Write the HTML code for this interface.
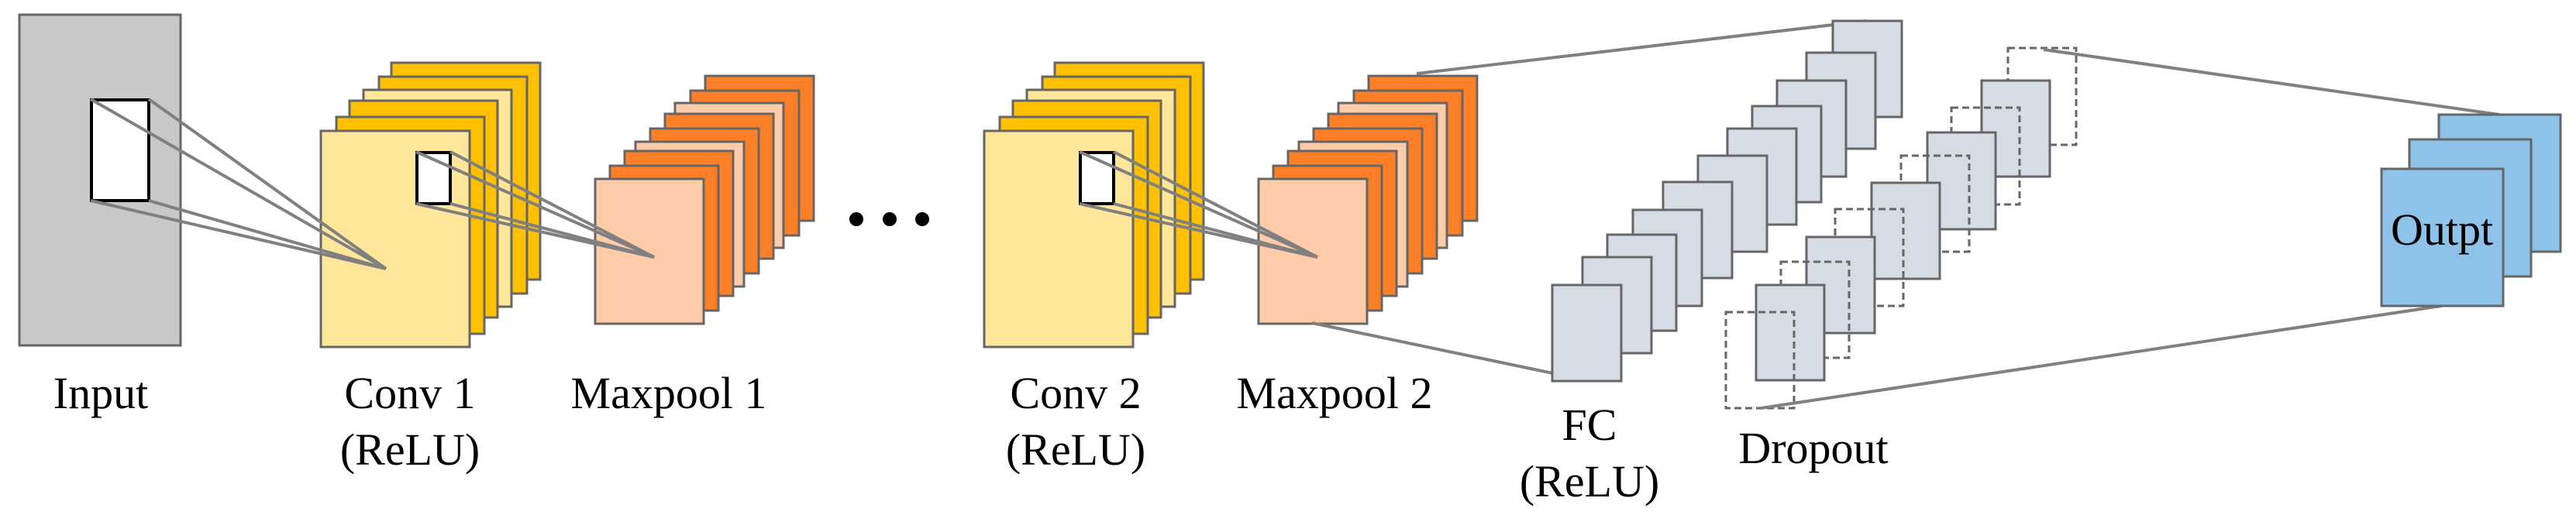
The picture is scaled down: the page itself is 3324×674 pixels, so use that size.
<!DOCTYPE html>
<html><head><meta charset="utf-8"><style>
html,body{margin:0;padding:0;background:#fff;width:3324px;height:674px;overflow:hidden}
svg{display:block}
text{font-family:"Liberation Serif",serif;font-size:58px;fill:#000}
</style></head><body>
<svg width="3324" height="674" viewBox="0 0 3324 674" xmlns="http://www.w3.org/2000/svg">
<defs>
<g id="conv">
<rect x="505" y="81" width="192" height="280" fill="#FFC000" stroke="#666" stroke-width="3"/>
<rect x="489" y="99" width="191" height="280" fill="#FFC000" stroke="#666" stroke-width="3"/>
<rect x="469" y="116" width="191" height="280" fill="#FFE699" stroke="#666" stroke-width="3"/>
<rect x="451" y="130" width="191" height="280" fill="#FFC000" stroke="#666" stroke-width="3"/>
<rect x="434" y="151" width="191" height="280" fill="#FFC000" stroke="#666" stroke-width="3"/>
<rect x="414" y="169" width="192" height="279" fill="#FFE699" stroke="#666" stroke-width="3"/>
</g>
<g id="pool">
<rect x="910" y="98" width="140" height="187" fill="#FF7F27" stroke="#666" stroke-width="3"/>
<rect x="891" y="117" width="140" height="187" fill="#FF7F27" stroke="#666" stroke-width="3"/>
<rect x="871" y="133" width="140" height="187" fill="#FFCBA8" stroke="#666" stroke-width="3"/>
<rect x="858" y="147" width="140" height="187" fill="#FF7F27" stroke="#666" stroke-width="3"/>
<rect x="839" y="166" width="140" height="187" fill="#FF7F27" stroke="#666" stroke-width="3"/>
<rect x="820" y="183" width="140" height="187" fill="#FFCBA8" stroke="#666" stroke-width="3"/>
<rect x="806" y="195" width="140" height="187" fill="#FF7F27" stroke="#666" stroke-width="3"/>
<rect x="787" y="214" width="140" height="187" fill="#FF7F27" stroke="#666" stroke-width="3"/>
<rect x="768" y="231" width="140" height="187" fill="#FFCBA8" stroke="#666" stroke-width="3"/>
</g>
</defs>

<!-- Input -->
<rect x="25" y="19" width="208" height="427" fill="#C8C8C8" stroke="#666" stroke-width="3"/>
<rect x="118" y="129" width="74" height="130" fill="#fff" stroke="#000" stroke-width="4"/>

<use href="#conv"/>
<g stroke="#808080" stroke-width="4" fill="none">
<line x1="117" y1="128" x2="498" y2="347"/>
<line x1="192" y1="128" x2="498" y2="347"/>
<line x1="117" y1="259" x2="498" y2="347"/>
<line x1="192" y1="259" x2="498" y2="347"/>
</g>
<rect x="538" y="197" width="43" height="66" fill="#fff" stroke="#000" stroke-width="4"/>

<use href="#pool"/>
<g stroke="#808080" stroke-width="4" fill="none">
<line x1="537" y1="196" x2="844" y2="332"/>
<line x1="581" y1="196" x2="844" y2="332"/>
<line x1="537" y1="263" x2="844" y2="332"/>
<line x1="581" y1="263" x2="844" y2="332"/>
</g>

<circle cx="1105" cy="283" r="9" fill="#000"/>
<circle cx="1148" cy="283" r="9" fill="#000"/>
<circle cx="1190" cy="283" r="9" fill="#000"/>

<g transform="translate(856,0)">
<use href="#conv"/>
<rect x="538" y="197" width="43" height="66" fill="#fff" stroke="#000" stroke-width="4"/>
<use href="#pool"/>
<g stroke="#808080" stroke-width="4" fill="none">
<line x1="537" y1="196" x2="844" y2="332"/>
<line x1="581" y1="196" x2="844" y2="332"/>
<line x1="537" y1="263" x2="844" y2="332"/>
<line x1="581" y1="263" x2="844" y2="332"/>
</g>
</g>

<g stroke="#808080" stroke-width="4" fill="none">
<line x1="1828" y1="95" x2="2408" y2="27"/>
<line x1="1693" y1="417" x2="2047" y2="491"/>
</g>

<!-- FC -->
<g fill="#D6DCE5" stroke="#666" stroke-width="3">
<rect x="2365" y="27" width="89" height="124"/>
<rect x="2331" y="68" width="89" height="124"/>
<rect x="2293" y="104" width="89" height="124"/>
<rect x="2261" y="137" width="89" height="124"/>
<rect x="2229" y="166" width="89" height="124"/>
<rect x="2191" y="201" width="89" height="124"/>
<rect x="2146" y="235" width="89" height="124"/>
<rect x="2107" y="271" width="89" height="124"/>
<rect x="2074" y="303" width="89" height="124"/>
<rect x="2042" y="332" width="89" height="124"/>
<rect x="2003" y="368" width="89" height="124"/>
</g>

<!-- Dropout -->
<g stroke-width="3">
<rect x="2591" y="62" width="88" height="125" fill="none" stroke="#666" stroke-dasharray="9,5"/>
<rect x="2557" y="104" width="88" height="124" fill="#D6DCE5" stroke="#666"/>
<rect x="2518" y="139" width="88" height="125" fill="none" stroke="#666" stroke-dasharray="9,5"/>
<rect x="2487" y="171" width="88" height="125" fill="#D6DCE5" stroke="#666"/>
<rect x="2453" y="201" width="88" height="124" fill="none" stroke="#666" stroke-dasharray="9,5"/>
<rect x="2415" y="236" width="88" height="124" fill="#D6DCE5" stroke="#666"/>
<rect x="2368" y="270" width="88" height="125" fill="none" stroke="#666" stroke-dasharray="9,5"/>
<rect x="2331" y="306" width="88" height="124" fill="#D6DCE5" stroke="#666"/>
<rect x="2298" y="338" width="88" height="124" fill="none" stroke="#666" stroke-dasharray="9,5"/>
<rect x="2266" y="368" width="88" height="123" fill="#D6DCE5" stroke="#666"/>
<rect x="2227" y="403" width="88" height="124" fill="none" stroke="#666" stroke-dasharray="9,5"/>
</g>

<g stroke="#808080" stroke-width="4" fill="none">
<line x1="2637" y1="64" x2="3225" y2="148"/>
<line x1="2272" y1="527" x2="3150" y2="395"/>
</g>

<!-- Output -->
<g fill="#8DC3E8" stroke="#666" stroke-width="3">
<rect x="3147" y="148" width="157" height="177"/>
<rect x="3109" y="180" width="157" height="177"/>
<rect x="3073" y="218" width="157" height="177"/>
</g>

<text x="130" y="527" text-anchor="middle">Input</text>
<text x="529" y="527" text-anchor="middle">Conv 1</text>
<text x="529" y="600" text-anchor="middle">(ReLU)</text>
<text x="863" y="527" text-anchor="middle">Maxpool 1</text>
<text x="1388" y="527" text-anchor="middle">Conv 2</text>
<text x="1388" y="600" text-anchor="middle">(ReLU)</text>
<text x="1722" y="527" text-anchor="middle">Maxpool 2</text>
<text x="2051" y="568" text-anchor="middle">FC</text>
<text x="2051" y="641" text-anchor="middle">(ReLU)</text>
<text x="2340" y="598" text-anchor="middle">Dropout</text>
<text x="3151" y="316" text-anchor="middle">Outpt</text>
</svg>
</body></html>
